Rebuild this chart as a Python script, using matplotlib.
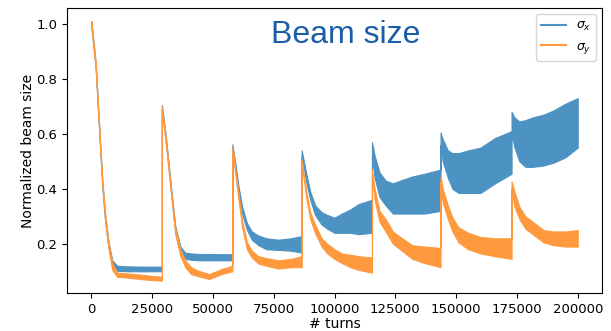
import numpy as np
import matplotlib.pyplot as plt

# turn number of each sample; kicks repeat the turn (value before / after the kick)
turns = [0, 1800, 2700, 3400, 4500, 5600, 7000, 8600, 10600, 15000, 20000, 25000,
         29000, 29000, 30400, 31800, 33200, 34500, 36600, 38600, 41000, 44000, 48500, 53500,
         58000, 58000, 59100, 60500, 62000, 64000, 66000, 68700, 72000, 77000, 82000,
         86500, 86500, 88500, 90000, 92000, 94700, 97000, 100000, 103000, 106500, 110000,
         115400, 115400, 116500, 118500, 121000, 124000, 127000, 132000, 137000,
         143600, 143600, 144500, 146600, 148500, 151000, 155000, 160000, 166000,
         172800, 172800, 174000, 176000, 178500, 181500, 186000, 190000, 195000, 200000]

# sigma_x band (min / max of the turn-by-turn signal)
sx_lo = [0.995, 0.835, 0.69, 0.58, 0.41, 0.29, 0.19, 0.12, 0.102, 0.10, 0.10, 0.10,
         0.10, 0.69, 0.59, 0.47, 0.35, 0.245, 0.17, 0.145, 0.142, 0.14, 0.14, 0.14,
         0.14, 0.545, 0.48, 0.385, 0.31, 0.25, 0.215, 0.195, 0.18, 0.178, 0.175,
         0.168, 0.52, 0.42, 0.36, 0.305, 0.27, 0.255, 0.24, 0.24, 0.24, 0.235,
         0.24, 0.52, 0.44, 0.37, 0.34, 0.31, 0.31, 0.31, 0.31,
         0.32, 0.56, 0.50, 0.44, 0.40, 0.385, 0.385, 0.385, 0.42,
         0.455, 0.60, 0.55, 0.50, 0.48, 0.48, 0.485, 0.495, 0.515, 0.55]
sx_hi = [1.01, 0.855, 0.71, 0.60, 0.43, 0.31, 0.21, 0.14, 0.12, 0.118, 0.117, 0.117,
         0.117, 0.705, 0.61, 0.49, 0.37, 0.265, 0.19, 0.168, 0.165, 0.163, 0.163, 0.162,
         0.162, 0.562, 0.50, 0.41, 0.335, 0.275, 0.245, 0.23, 0.22, 0.215, 0.22,
         0.228, 0.54, 0.45, 0.39, 0.34, 0.315, 0.305, 0.295, 0.31, 0.325, 0.345,
         0.36, 0.57, 0.52, 0.46, 0.43, 0.42, 0.43, 0.445, 0.455,
         0.47, 0.605, 0.58, 0.54, 0.53, 0.53, 0.54, 0.55, 0.585,
         0.61, 0.68, 0.66, 0.645, 0.65, 0.66, 0.67, 0.685, 0.71, 0.73]

# sigma_y band
sy_lo = [0.99, 0.835, 0.69, 0.58, 0.41, 0.29, 0.185, 0.105, 0.08, 0.077, 0.072, 0.068,
         0.066, 0.68, 0.585, 0.465, 0.345, 0.235, 0.155, 0.115, 0.09, 0.082, 0.072, 0.09,
         0.10, 0.54, 0.46, 0.36, 0.26, 0.18, 0.15, 0.128, 0.12, 0.11, 0.115,
         0.115, 0.49, 0.36, 0.29, 0.24, 0.19, 0.165, 0.145, 0.13, 0.115, 0.105,
         0.095, 0.45, 0.36, 0.28, 0.245, 0.20, 0.18, 0.145, 0.13,
         0.115, 0.425, 0.35, 0.29, 0.245, 0.205, 0.18, 0.165, 0.155,
         0.145, 0.40, 0.335, 0.29, 0.255, 0.235, 0.205, 0.195, 0.19, 0.19]
sy_hi = [1.01, 0.86, 0.715, 0.605, 0.435, 0.315, 0.21, 0.13, 0.095, 0.092, 0.088, 0.083,
         0.08, 0.70, 0.605, 0.485, 0.365, 0.26, 0.18, 0.14, 0.115, 0.102, 0.09, 0.108,
         0.12, 0.555, 0.48, 0.385, 0.285, 0.205, 0.175, 0.155, 0.148, 0.14, 0.145,
         0.155, 0.505, 0.385, 0.315, 0.27, 0.22, 0.20, 0.18, 0.165, 0.16, 0.155,
         0.15, 0.47, 0.40, 0.32, 0.29, 0.245, 0.225, 0.195, 0.19,
         0.185, 0.445, 0.40, 0.34, 0.295, 0.26, 0.24, 0.225, 0.22,
         0.22, 0.427, 0.39, 0.335, 0.30, 0.28, 0.25, 0.245, 0.245, 0.25]

blue = '#4c92c3'
orange = '#ff993e'

fig = plt.figure(figsize=(6.11, 3.31), dpi=100)
ax = fig.add_axes([0.1097, 0.1148, 0.8756, 0.861])

x = np.array(turns)
ax.fill_between(x, sx_lo, sx_hi, facecolor=blue, edgecolor=blue, linewidth=0.8)
ax.fill_between(x, sy_lo, sy_hi, facecolor=orange, edgecolor=orange, linewidth=0.8)

# legend handles
ax.plot([], [], color=blue, lw=1.5, label=r'$\sigma_x$')
ax.plot([], [], color=orange, lw=1.5, label=r'$\sigma_y$')
ax.legend(loc='upper right', fontsize=9)

ax.set_xlim(-10000, 210000)
ax.set_ylim(0.021, 1.058)
ax.set_yticks([0.2, 0.4, 0.6, 0.8, 1.0])
ax.set_xticks(np.arange(0, 200001, 25000))
ax.tick_params(labelsize=9.5)
ax.set_xlabel('# turns', labelpad=1)
ax.set_ylabel('Normalized beam size', labelpad=1)

ax.text(0.52, 0.905, 'Beam size', transform=ax.transAxes, ha='center', va='center',
        fontsize=23, color='#1a5ea8', family='Liberation Sans')

fig.savefig('out.png', dpi=100)
